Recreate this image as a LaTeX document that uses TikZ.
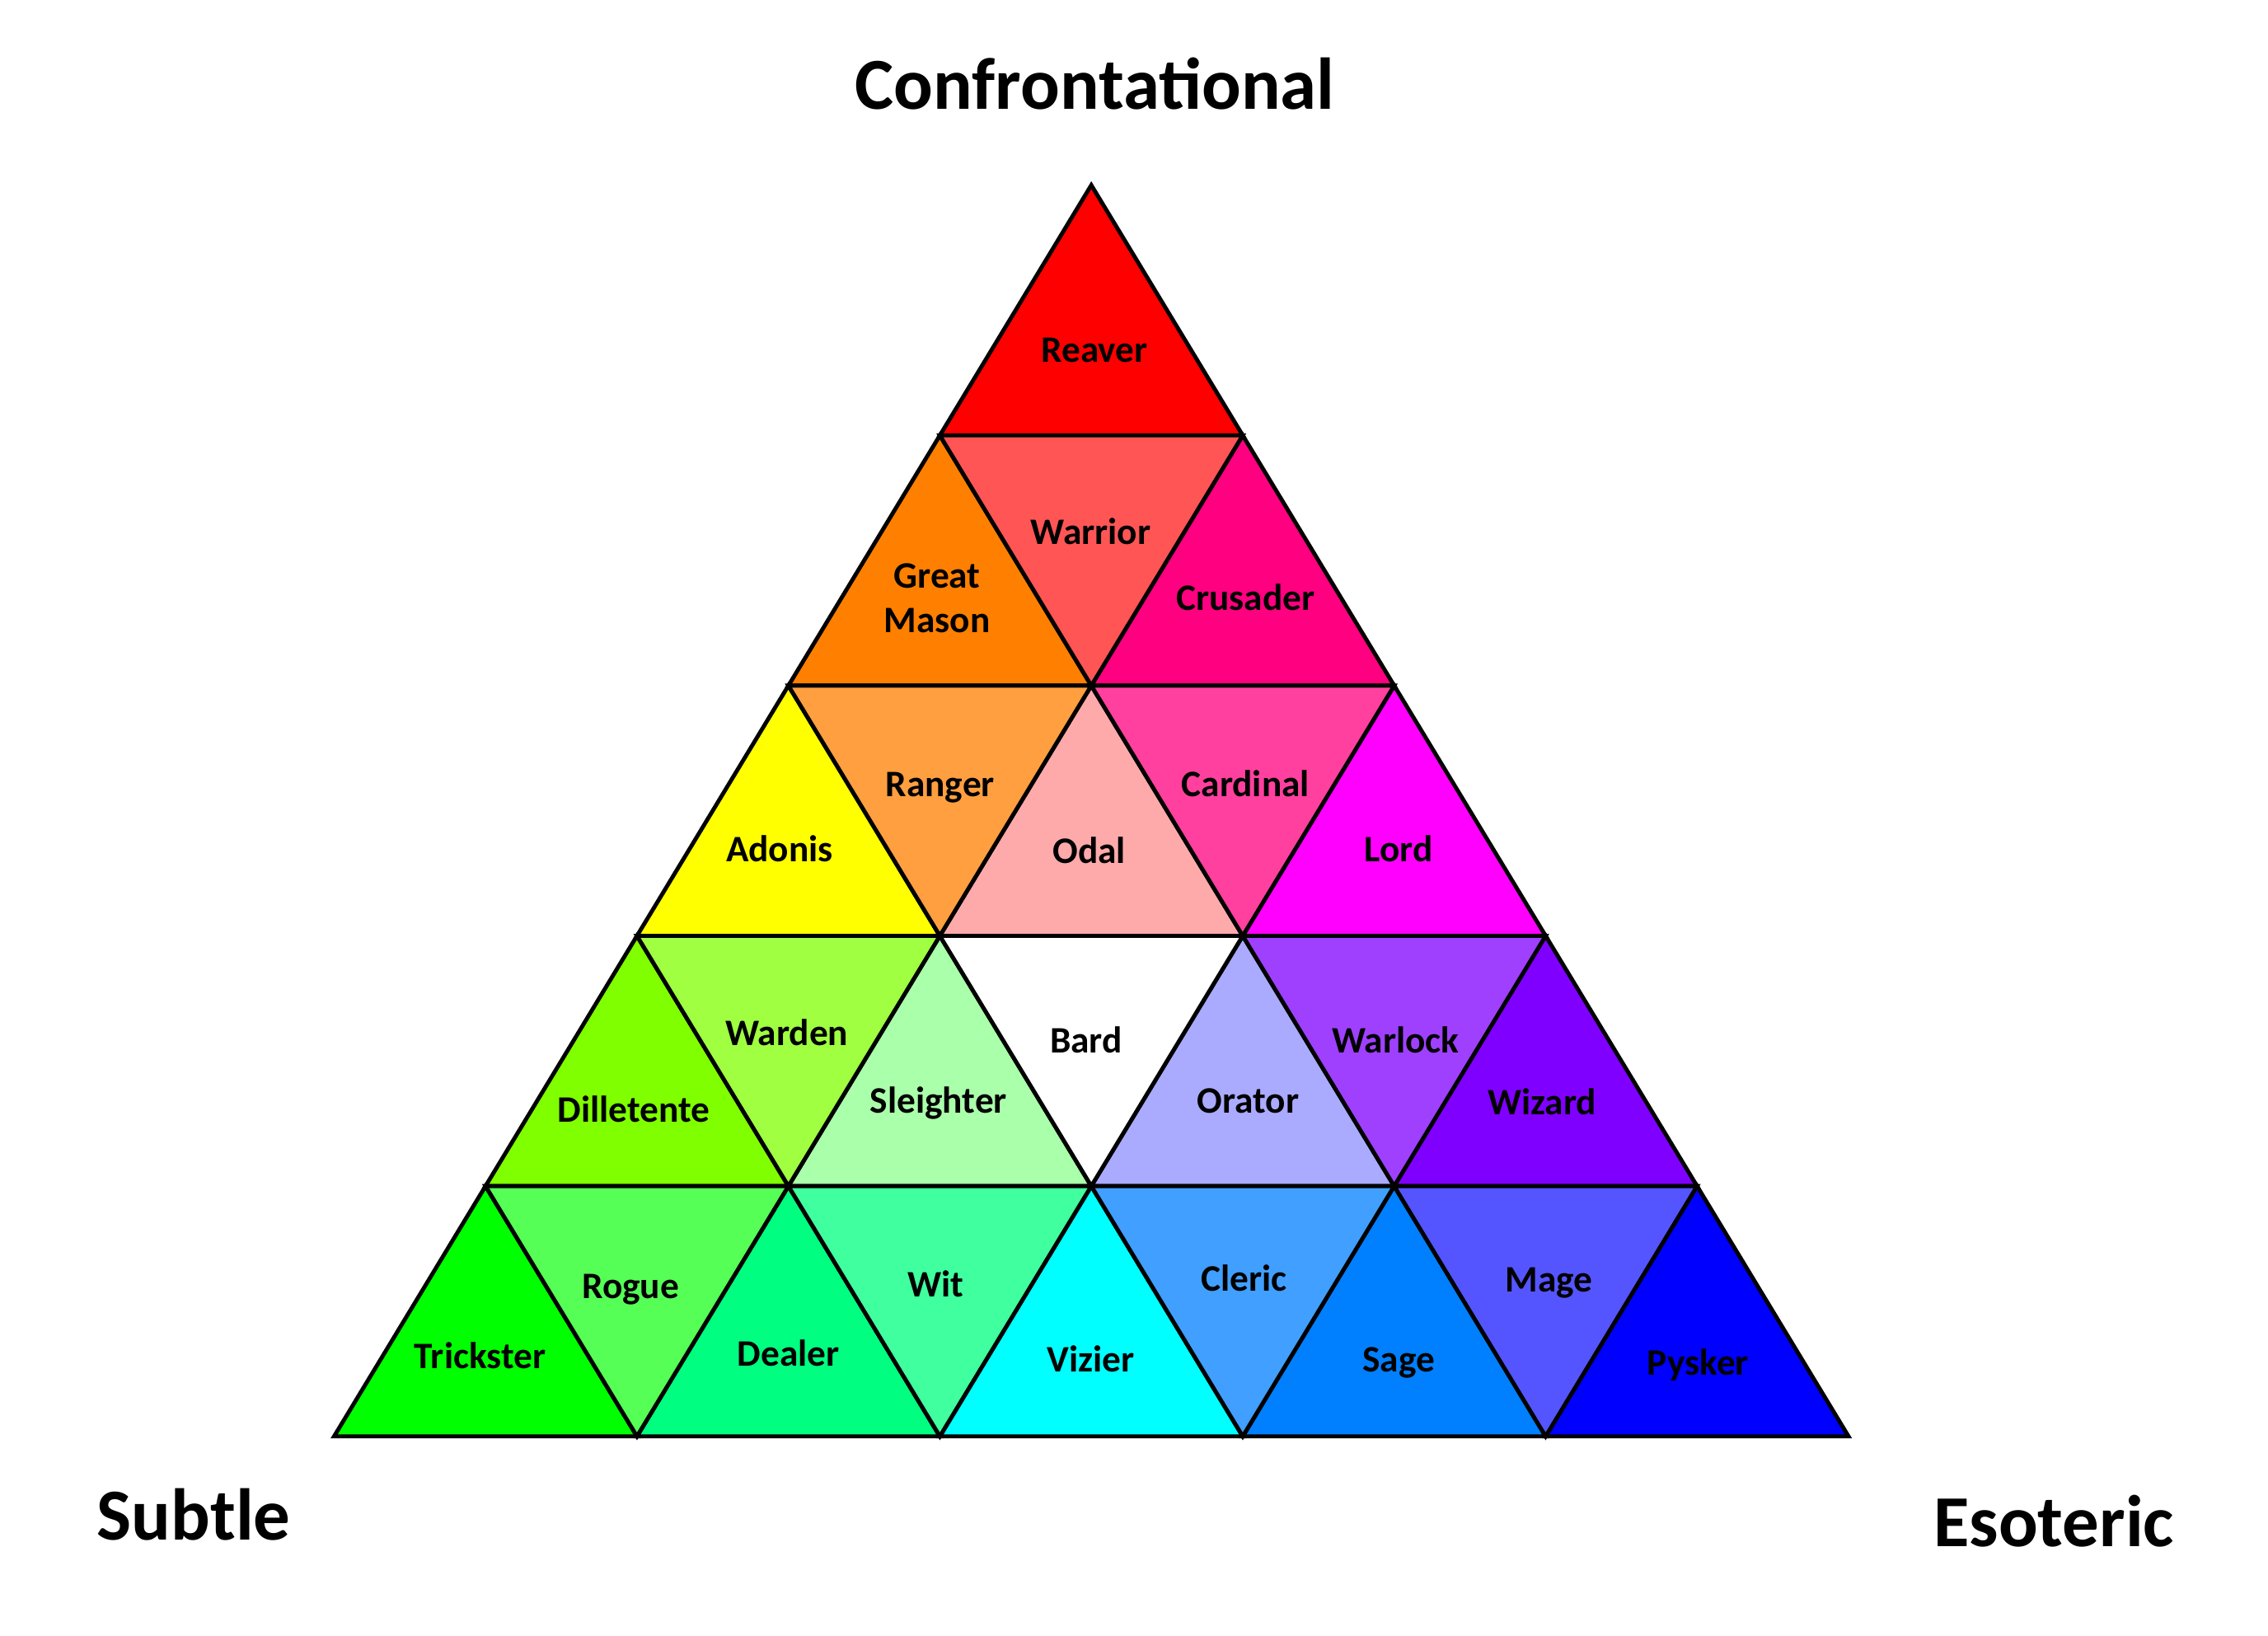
\documentclass[tikz,border=0pt]{standalone}
\usepackage{fontspec}
\setmainfont{Carlito}
\definecolor{cReaver}{HTML}{FF0000}
\definecolor{cMason}{HTML}{FF8000}
\definecolor{cWarrior}{HTML}{FF5555}
\definecolor{cCrusader}{HTML}{FF0080}
\definecolor{cAdonis}{HTML}{FFFF00}
\definecolor{cRanger}{HTML}{FF9F40}
\definecolor{cOdal}{HTML}{FFAAAA}
\definecolor{cCardinal}{HTML}{FF409F}
\definecolor{cLord}{HTML}{FF00FF}
\definecolor{cDilletente}{HTML}{80FF00}
\definecolor{cWarden}{HTML}{9FFF40}
\definecolor{cSleighter}{HTML}{AAFFAA}
\definecolor{cBard}{HTML}{FFFFFF}
\definecolor{cOrator}{HTML}{AAAAFF}
\definecolor{cWarlock}{HTML}{9F40FF}
\definecolor{cWizard}{HTML}{8000FF}
\definecolor{cTrickster}{HTML}{00FF00}
\definecolor{cRogue}{HTML}{55FF55}
\definecolor{cDealer}{HTML}{00FF80}
\definecolor{cWit}{HTML}{40FF9F}
\definecolor{cVizier}{HTML}{00FFFF}
\definecolor{cCleric}{HTML}{409FFF}
\definecolor{cSage}{HTML}{0080FF}
\definecolor{cMage}{HTML}{5555FF}
\definecolor{cPysker}{HTML}{0000FF}
\begin{document}
\begin{tikzpicture}[x=3.675cm,y=3.036cm,
  tri/.style={draw=black,line width=1.4pt},
  lbl/.style={font=\bfseries\fontsize{12.9}{15.3}\selectfont,align=center,text height=2ex,text depth=.25ex},
  ttl/.style={font=\bfseries\fontsize{25.3}{30}\selectfont}]
\fill[white] (-1.103,-.795) rectangle (6.385,5.740);
\useasboundingbox (-1.103,-.795) rectangle (6.385,5.740);
% triangles pointing up: corner, colour, name, text, label position
\foreach \a/\r/\c/\n/\t/\lx/\ly in {0/0/cTrickster/trickster/Trickster/.482/.318,1/0/cDealer/dealer/Dealer/1.5/.329,2/0/cVizier/vizier/Vizier/2.498/.306,3/0/cSage/sage/Sage/3.515/.306,4/0/cPysker/pysker/Pysker/4.503/.294,
  .5/1/cDilletente/dilletente/Dilletente/.989/1.305,1.5/1/cSleighter/sleighter/Sleighter/1.996/1.339,2.5/1/cOrator/orator/Orator/3.018/1.339,3.5/1/cWizard/wizard/Wizard/3.988/1.334,
  1/2/cAdonis/adonis/Adonis/1.471/2.344,2/2/cOdal/odal/Odal/2.493/2.338,3/2/cLord/lord/Lord/3.515/2.344,
  1.5/3/cMason/mason/{Great\\Mason}/1.991/3.26,2.5/3/cCrusader/crusader/Crusader/3.009/3.349,
  2/4/cReaver/reaver/Reaver/2.511/4.342}
  {\filldraw[tri,fill=\c] (\a,\r)--++(1,0)--++(-.5,1)--cycle;\node[lbl] (\n) at (\lx,\ly) {\t};}
% triangles pointing down
\foreach \a/\r/\c/\n/\t/\lx/\ly in {.5/0/cRogue/rogue/Rogue/.979/.6,1.5/0/cWit/wit/Wit/1.987/.606,2.5/0/cCleric/cleric/Cleric/3.004/.629,3.5/0/cMage/mage/Mage/4.011/.624,
  1/1/cWarden/warden/Warden/1.495/1.611,2/1/cBard/bard/Bard/2.483/1.582,3/1/cWarlock/warlock/Warlock/3.505/1.582,
  1.5/2/cRanger/ranger/Ranger/2.001/2.604,2.5/2/cCardinal/cardinal/Cardinal/3.009/2.604,
  2/3/cWarrior/warrior/Warrior/2.498/3.614}
  {\filldraw[tri,fill=\c] (\a,\r+1)--++(1,0)--++(-.5,-1)--cycle;\node[lbl] (\n) at (\lx,\ly) {\t};}
\node[ttl] (confr) at (2.512,5.405) {Confrontational};
\node[ttl] (subtle) at (-.463,-.312) {Subtle};
\node[ttl] (esot) at (5.678,-.340) {Esoteric};
\end{tikzpicture}
\end{document}
